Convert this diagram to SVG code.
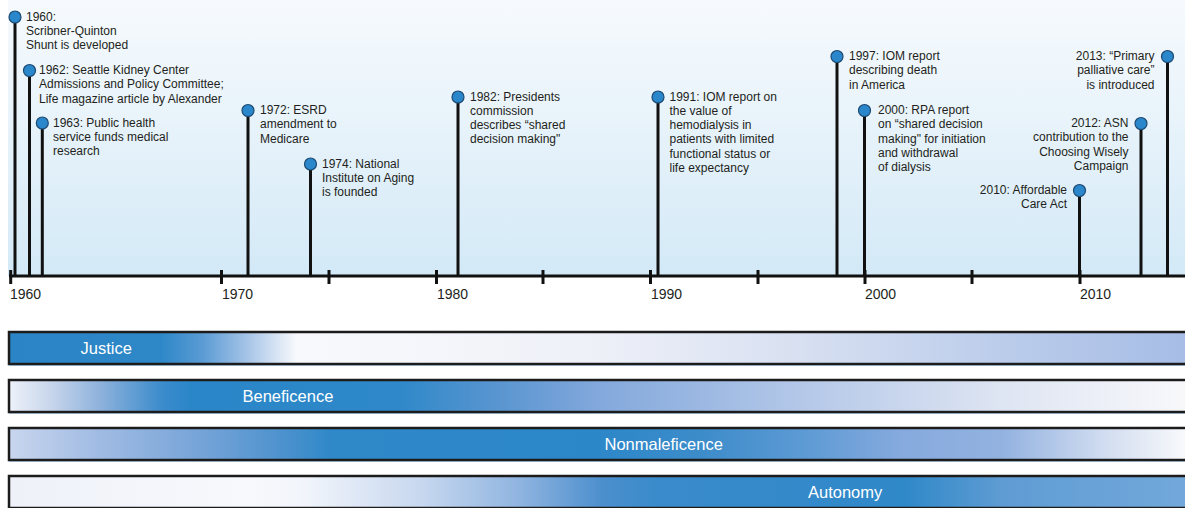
<svg xmlns="http://www.w3.org/2000/svg" width="1185" height="508" viewBox="0 0 1185 508">
  <defs>
    <linearGradient id="sky" x1="0" y1="0" x2="0" y2="1">
      <stop offset="0" stop-color="#f6fafd"/>
      <stop offset="0.5" stop-color="#e6f2fa"/>
      <stop offset="1" stop-color="#d3e9f7"/>
    </linearGradient>
    <linearGradient id="gJustice" gradientUnits="userSpaceOnUse" x1="8" y1="0" x2="1185" y2="0">
      <stop offset="0" stop-color="#2a84c5"/>
      <stop offset="0.13" stop-color="#2e88c8"/>
      <stop offset="0.165" stop-color="#5a9bd4"/>
      <stop offset="0.205" stop-color="#a9c6e8"/>
      <stop offset="0.245" stop-color="#f8f9fc"/>
      <stop offset="0.33" stop-color="#f6f7fb"/>
      <stop offset="0.5" stop-color="#eef0f8"/>
      <stop offset="0.67" stop-color="#d8e0f1"/>
      <stop offset="0.84" stop-color="#bccdeb"/>
      <stop offset="1" stop-color="#a7bde6"/>
    </linearGradient>
    <linearGradient id="gBeneficence" gradientUnits="userSpaceOnUse" x1="8" y1="0" x2="1185" y2="0">
      <stop offset="0" stop-color="#eef2f9"/>
      <stop offset="0.036" stop-color="#c8d6ec"/>
      <stop offset="0.078" stop-color="#8eb2dc"/>
      <stop offset="0.13" stop-color="#3d8ccc"/>
      <stop offset="0.155" stop-color="#2a86c8"/>
      <stop offset="0.33" stop-color="#2e88c9"/>
      <stop offset="0.42" stop-color="#5b96d1"/>
      <stop offset="0.5" stop-color="#82a8dc"/>
      <stop offset="0.67" stop-color="#b3c7e8"/>
      <stop offset="0.84" stop-color="#dde4f2"/>
      <stop offset="1" stop-color="#f8f8fb"/>
    </linearGradient>
    <linearGradient id="gNonmaleficence" gradientUnits="userSpaceOnUse" x1="8" y1="0" x2="1185" y2="0">
      <stop offset="0" stop-color="#c9d6ee"/>
      <stop offset="0.078" stop-color="#a0bbe3"/>
      <stop offset="0.163" stop-color="#76a4d8"/>
      <stop offset="0.23" stop-color="#4f93ce"/>
      <stop offset="0.275" stop-color="#2f88c8"/>
      <stop offset="0.5" stop-color="#2c87c8"/>
      <stop offset="0.59" stop-color="#3d8cca"/>
      <stop offset="0.675" stop-color="#5c9ad4"/>
      <stop offset="0.76" stop-color="#86aade"/>
      <stop offset="0.845" stop-color="#93b2e0"/>
      <stop offset="0.93" stop-color="#d0dcf0"/>
      <stop offset="1" stop-color="#f8f9fb"/>
    </linearGradient>
    <linearGradient id="gAutonomy" gradientUnits="userSpaceOnUse" x1="8" y1="0" x2="1185" y2="0">
      <stop offset="0" stop-color="#eef1f9"/>
      <stop offset="0.205" stop-color="#f8f9fc"/>
      <stop offset="0.25" stop-color="#f2f5fb"/>
      <stop offset="0.35" stop-color="#c8d8ef"/>
      <stop offset="0.435" stop-color="#8fb4e0"/>
      <stop offset="0.505" stop-color="#4c8fcd"/>
      <stop offset="0.55" stop-color="#3a8bcb"/>
      <stop offset="0.76" stop-color="#2f88c8"/>
      <stop offset="0.845" stop-color="#5f9cd3"/>
      <stop offset="1" stop-color="#72a8db"/>
    </linearGradient>
  </defs>
  <style>
    .evt { font-family: "Liberation Sans", Arial, sans-serif; font-size: 12px; fill: #231f20; }
    .end { text-anchor: end; }
    .yr { font-family: "Liberation Sans", Arial, sans-serif; font-size: 14px; fill: #231f20; }
    .band-label { font-family: "Liberation Sans", Arial, sans-serif; font-size: 16.5px; fill: #ffffff; }
    .dot { fill: #2b87cb; stroke: #1d4a72; stroke-width: 1.2; }
    .stem { stroke: #111111; stroke-width: 3; fill: none; }
    .tick { stroke: #111111; stroke-width: 3; }
    .band { stroke: #1c1c1c; stroke-width: 2.5; }
  </style>

  <!-- timeline backdrop -->
  <rect x="8" y="0" width="1177" height="276" fill="url(#sky)"/>

  <!-- stems joining each event marker to the axis -->
  <g id="connectors">
    <line class="stem" x1="15" y1="17" x2="15" y2="276"/>
    <line class="stem" x1="29.5" y1="70.5" x2="29.5" y2="276"/>
    <line class="stem" x1="42.3" y1="123" x2="42.3" y2="276"/>
    <line class="stem" x1="248" y1="110.5" x2="248" y2="276"/>
    <line class="stem" x1="310.5" y1="164" x2="310.5" y2="276"/>
    <line class="stem" x1="458" y1="97" x2="458" y2="276"/>
    <line class="stem" x1="658" y1="97" x2="658" y2="276"/>
    <line class="stem" x1="837" y1="56.5" x2="837" y2="276"/>
    <line class="stem" x1="864.5" y1="110.5" x2="864.5" y2="276"/>
    <line class="stem" x1="1079.5" y1="190.5" x2="1079.5" y2="276"/>
    <line class="stem" x1="1141" y1="123.5" x2="1141" y2="276"/>
    <line class="stem" x1="1167.5" y1="56.5" x2="1167.5" y2="276"/>
  </g>

  <!-- axis with 5-year ticks -->
  <g id="axis">
    <line x1="9" y1="276" x2="1185" y2="276" stroke="#111111" stroke-width="3"/>
    <line class="tick" x1="10.7" y1="270" x2="10.7" y2="284"/>
    <line class="tick" x1="221.5" y1="270" x2="221.5" y2="284"/>
    <line class="tick" x1="329" y1="270" x2="329" y2="284"/>
    <line class="tick" x1="436.5" y1="270" x2="436.5" y2="284"/>
    <line class="tick" x1="543" y1="270" x2="543" y2="284"/>
    <line class="tick" x1="650.5" y1="270" x2="650.5" y2="284"/>
    <line class="tick" x1="758" y1="270" x2="758" y2="284"/>
    <line class="tick" x1="865" y1="270" x2="865" y2="284"/>
    <line class="tick" x1="972" y1="270" x2="972" y2="284"/>
    <line class="tick" x1="1080" y1="270" x2="1080" y2="284"/>
    <text class="yr" x="10" y="299">1960</text>
    <text class="yr" x="222" y="299">1970</text>
    <text class="yr" x="437" y="299">1980</text>
    <text class="yr" x="651" y="299">1990</text>
    <text class="yr" x="865" y="299">2000</text>
    <text class="yr" x="1080" y="299">2010</text>
  </g>

  <!-- events -->
  <g id="event-1960">
    <circle class="dot" cx="15" cy="17" r="6"/>
    <text class="evt" x="26" y="20.5">1960:<tspan x="26" dy="14.3">Scribner-Quinton</tspan><tspan x="26" dy="14.3">Shunt is developed</tspan></text>
  </g>
  <g id="event-1962">
    <circle class="dot" cx="29.5" cy="70.5" r="6"/>
    <text class="evt" x="39" y="74">1962: Seattle Kidney Center<tspan x="39" dy="14.3">Admissions and Policy Committee;</tspan><tspan x="39" dy="14.3">Life magazine article by Alexander</tspan></text>
  </g>
  <g id="event-1963">
    <circle class="dot" cx="42.3" cy="123" r="6"/>
    <text class="evt" x="53" y="126.5">1963: Public health<tspan x="53" dy="14.3">service funds medical</tspan><tspan x="53" dy="14.3">research</tspan></text>
  </g>
  <g id="event-1972">
    <circle class="dot" cx="248" cy="110.5" r="6"/>
    <text class="evt" x="260" y="114">1972: ESRD<tspan x="260" dy="14.3">amendment to</tspan><tspan x="260" dy="14.3">Medicare</tspan></text>
  </g>
  <g id="event-1974">
    <circle class="dot" cx="310.5" cy="164" r="6"/>
    <text class="evt" x="322" y="167.5">1974: National<tspan x="322" dy="14.3">Institute on Aging</tspan><tspan x="322" dy="14.3">is founded</tspan></text>
  </g>
  <g id="event-1982">
    <circle class="dot" cx="458" cy="97" r="6"/>
    <text class="evt" x="470" y="100.5">1982: Presidents<tspan x="470" dy="14.3">commission</tspan><tspan x="470" dy="14.3">describes “shared</tspan><tspan x="470" dy="14.3">decision making"</tspan></text>
  </g>
  <g id="event-1991">
    <circle class="dot" cx="658" cy="97" r="6"/>
    <text class="evt" x="669.5" y="100.5">1991: IOM report on<tspan x="669.5" dy="14.3">the value of</tspan><tspan x="669.5" dy="14.3">hemodialysis in</tspan><tspan x="669.5" dy="14.3">patients with limited</tspan><tspan x="669.5" dy="14.3">functional status or</tspan><tspan x="669.5" dy="14.3">life expectancy</tspan></text>
  </g>
  <g id="event-1997">
    <circle class="dot" cx="837" cy="56.5" r="6"/>
    <text class="evt" x="849" y="60">1997: IOM report<tspan x="849" dy="14.3">describing death</tspan><tspan x="849" dy="14.3">in America</tspan></text>
  </g>
  <g id="event-2000">
    <circle class="dot" cx="864.5" cy="110.5" r="6"/>
    <text class="evt" x="878" y="114">2000: RPA report<tspan x="878" dy="14.3">on “shared decision</tspan><tspan x="878" dy="14.3">making" for initiation</tspan><tspan x="878" dy="14.3">and withdrawal</tspan><tspan x="878" dy="14.3">of dialysis</tspan></text>
  </g>
  <g id="event-2010">
    <circle class="dot" cx="1079.5" cy="190.5" r="6"/>
    <text class="evt end" x="1067" y="194">2010: Affordable<tspan x="1067" dy="14.3">Care Act</tspan></text>
  </g>
  <g id="event-2012">
    <circle class="dot" cx="1141" cy="123.5" r="6"/>
    <text class="evt end" x="1128.5" y="127">2012: ASN<tspan x="1128.5" dy="14.3">contribution to the</tspan><tspan x="1128.5" dy="14.3">Choosing Wisely</tspan><tspan x="1128.5" dy="14.3">Campaign</tspan></text>
  </g>
  <g id="event-2013">
    <circle class="dot" cx="1167.5" cy="56.5" r="6"/>
    <text class="evt end" x="1154.5" y="60">2013: “Primary<tspan x="1154.5" dy="14.3">palliative care”</tspan><tspan x="1154.5" dy="14.3">is introduced</tspan></text>
  </g>

  <!-- ethical principle bands -->
  <g id="band-justice">
    <line x1="9" y1="365.5" x2="1185" y2="365.5" stroke="#b9d3ee" stroke-width="1"/>
    <rect class="band" x="9" y="332" width="1190" height="32" fill="url(#gJustice)"/>
    <text class="band-label" x="80.5" y="354">Justice</text>
  </g>
  <g id="band-beneficence">
    <line x1="9" y1="413.5" x2="1185" y2="413.5" stroke="#b9d3ee" stroke-width="1"/>
    <rect class="band" x="9" y="380" width="1190" height="32" fill="url(#gBeneficence)"/>
    <text class="band-label" x="242.5" y="402">Beneficence</text>
  </g>
  <g id="band-nonmaleficence">
    <line x1="9" y1="461.5" x2="1185" y2="461.5" stroke="#b9d3ee" stroke-width="1"/>
    <rect class="band" x="9" y="428" width="1190" height="32" fill="url(#gNonmaleficence)"/>
    <text class="band-label" x="604.5" y="450">Nonmaleficence</text>
  </g>
  <g id="band-autonomy">
    <rect class="band" x="9" y="476" width="1190" height="32" fill="url(#gAutonomy)"/>
    <text class="band-label" x="808" y="498">Autonomy</text>
  </g>
</svg>
